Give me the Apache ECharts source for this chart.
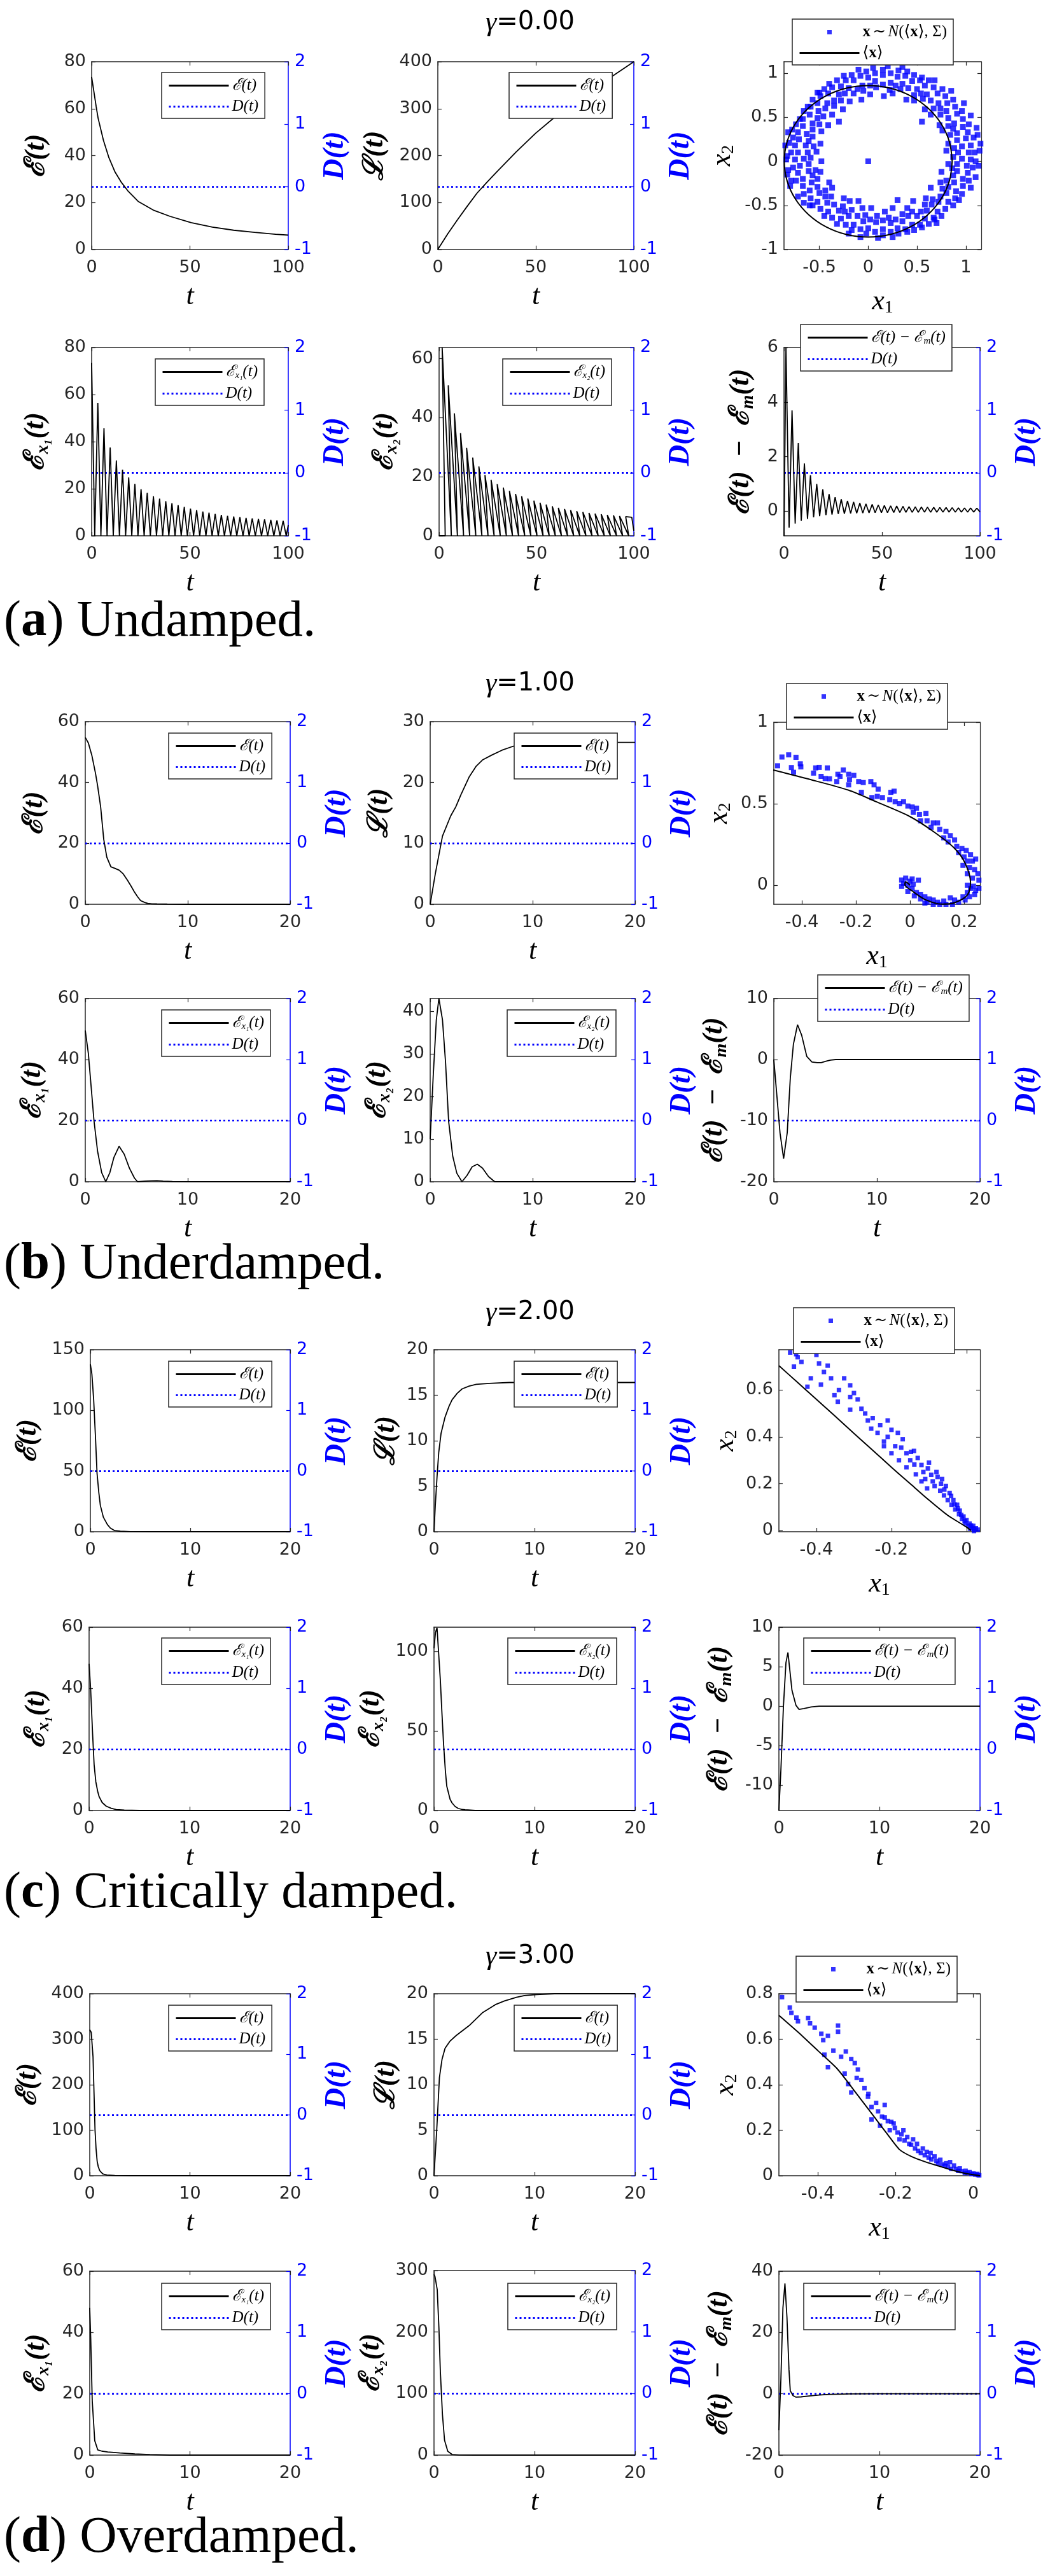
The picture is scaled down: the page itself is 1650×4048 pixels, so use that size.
<!DOCTYPE html>
<html><head><meta charset="utf-8">
<script src="https://cdn.jsdelivr.net/npm/echarts@6/dist/echarts.min.js"></script>
<style>html,body{margin:0;padding:0;background:#fff}#c{width:1650px;height:4048px}</style>
</head><body><div id="c"></div>
<script>
// ================= DATA =================
const gammaLabels = ['0.00', '1.00', '2.00', '3.00'];
const captionLetters = ['a', 'b', 'c', 'd'];
const captionTexts = ['Undamped.', 'Underdamped.', 'Critically damped.', 'Overdamped.'];

// D(t) is identically zero
const dT_a = [0, 100];
const dT_bcd = [0, 20];
const dV = [0, 0];

// ---- (a) gamma = 0 ----
const aE_t = [0, 0.6, 2.3, 3.3, 6, 8.7, 11.9, 15.2, 18.4, 23.8, 31.3, 39.9, 50.6, 61.4, 72.2, 82.9, 93.5, 100];
const aE_v = [73.5, 73, 60.9, 55.9, 46.5, 39.3, 33, 28.5, 25.0, 20.4, 16.8, 14.1, 11.4, 9.5, 8.2, 7.3, 6.5, 6.1];
const aL_t = [0, 5, 10, 15, 20, 25, 30, 40, 50, 60, 70, 80, 90, 100];
const aL_v = [0, 33, 63, 92, 120, 143, 165, 208, 248, 283, 315, 345, 372, 400];
// energy of x1 peaks at these times, energy of x2 peaks at the other times; troughs reach zero
const aX1peak_t = [0, 3.14, 6.28, 9.42, 12.57, 15.71, 18.85, 21.99, 25.13, 28.27, 31.42, 34.56, 37.7, 40.84, 43.98, 47.12, 50.27, 53.41, 56.55, 59.69, 62.83, 65.97, 69.12, 72.26, 75.4, 78.54, 81.68, 84.82, 87.96, 91.11, 94.25, 97.39];
const aX1peak_v = [73.5, 56.5, 45.7, 37.5, 32, 28.1, 24.8, 22, 19.8, 18.2, 16.8, 15.8, 14.7, 13.8, 13.0, 12.3, 11.5, 10.9, 10.3, 9.8, 9.3, 8.9, 8.5, 8.2, 7.9, 7.6, 7.4, 7.2, 7.0, 6.8, 6.6, 6.4];
const aX2peak_t = [1.57, 4.71, 7.85, 11.0, 14.14, 17.28, 20.42, 23.56, 26.7, 29.85, 32.99, 36.13, 39.27, 42.41, 45.55, 48.69, 51.84, 54.98, 58.12, 61.26, 64.4, 67.54, 70.69, 73.83, 76.97, 80.11, 83.25, 86.39, 89.54, 92.68, 95.82, 98.96];
const aX2peak_v = [63.8, 51, 41.5, 34.8, 29.8, 26.5, 23.5, 20.6, 19.0, 17.5, 16.3, 15.2, 14.2, 13.4, 12.6, 11.9, 11.2, 10.6, 10.0, 9.5, 9.1, 8.7, 8.35, 8.05, 7.75, 7.5, 7.3, 7.1, 6.9, 6.7, 6.5, 6.3];
const aTroughV = 0;
const aX1_end = [100, 4.6];
const aX2_end = [100, 1.7];
const aDE_t = [0, 1.0, 2.6, 4.1, 5.7, 7.3, 8.8, 10.4, 12.0, 13.5, 15.1, 16.7, 18.2, 19.8, 21.4, 23.0, 24.5, 26.1, 27.7, 29.2, 30.8, 32.4, 34.0, 35.5, 37.1, 38.7, 40.2, 41.8, 43.4, 45.0, 46.5, 48.1, 49.7, 51.2, 52.8, 54.4, 56.0, 57.5, 59.1, 60.7, 62.2, 63.8, 65.4, 67.0, 68.5, 70.1, 71.7, 73.2, 74.8, 76.4, 78.0, 79.5, 81.1, 82.7, 84.2, 85.8, 87.4, 89.0, 90.5, 92.1, 93.7, 95.2, 96.8, 98.4, 100];
const aDE_v = [-0.9, 6.0, -0.6, 3.7, -0.45, 2.5, -0.35, 1.75, -0.28, 1.32, -0.22, 1.0, -0.18, 0.8, -0.14, 0.63, -0.12, 0.52, -0.1, 0.44, -0.09, 0.38, -0.08, 0.34, -0.07, 0.3, -0.065, 0.27, -0.06, 0.25, -0.055, 0.23, -0.05, 0.21, -0.05, 0.2, -0.045, 0.19, -0.045, 0.18, -0.04, 0.17, -0.04, 0.16, -0.04, 0.155, -0.035, 0.15, -0.035, 0.145, -0.035, 0.14, -0.03, 0.135, -0.03, 0.13, -0.03, 0.125, -0.03, 0.12, -0.03, 0.12, -0.03, 0.115, -0.03];
const aMean = [[0.86,0],[0.831,0.223],[0.745,0.43],[0.608,0.608],[0.43,0.745],[0.223,0.831],[0,0.86],[-0.223,0.831],[-0.43,0.745],[-0.608,0.608],[-0.745,0.43],[-0.831,0.223],[-0.86,0],[-0.831,-0.223],[-0.745,-0.43],[-0.608,-0.608],[-0.43,-0.745],[-0.223,-0.831],[0,-0.86],[0.223,-0.831],[0.43,-0.745],[0.608,-0.608],[0.745,-0.43],[0.831,-0.223],[0.86,0]];
const aCloud = [
[0.80,0.12],[0.82,0.20],[0.76,0.35],[0.73,0.41],[0.64,0.53],[0.58,0.59],[0.47,0.69],[0.39,0.70],[0.25,0.77],[0.16,0.74],[0.02,0.76],[-0.07,0.70],[-0.19,0.68],[-0.26,0.59],[-0.37,0.53],[-0.41,0.41],[-0.48,0.34],[-0.49,0.20],[-0.53,0.11],[-0.48,0.0],[-0.49,-0.12],[-0.40,-0.24],[-0.37,-0.30],[-0.25,-0.42],[-0.19,-0.45],[-0.06,-0.53],[0.03,-0.53],[0.17,-0.57],[0.25,-0.53],[0.40,-0.53],[0.46,-0.45],[0.59,-0.42],[0.64,-0.30],[0.74,-0.24],[0.75,-0.12],[0.82,-0.03],
[0.88,0.15],[0.84,0.30],[0.82,0.40],[0.74,0.53],[0.67,0.60],[0.56,0.71],[0.47,0.75],[0.33,0.82],[0.22,0.81],[0.08,0.84],[-0.05,0.80],[-0.15,0.77],[-0.28,0.69],[-0.35,0.63],[-0.46,0.51],[-0.50,0.42],[-0.57,0.28],[-0.56,0.17],[-0.59,0.04],[-0.54,-0.10],[-0.52,-0.20],[-0.44,-0.33],[-0.38,-0.40],[-0.26,-0.51],[-0.17,-0.55],[-0.03,-0.61],[0.09,-0.62],[0.21,-0.64],[0.35,-0.60],[0.45,-0.57],[0.58,-0.49],[0.66,-0.43],[0.76,-0.31],[0.80,-0.22],[0.86,-0.08],[0.87,0.05],
[0.96,0.17],[0.91,0.32],[0.88,0.43],[0.80,0.57],[0.72,0.66],[0.60,0.76],[0.50,0.82],[0.35,0.88],[0.23,0.89],[0.07,0.91],[-0.06,0.86],[-0.20,0.83],[-0.30,0.76],[-0.42,0.66],[-0.51,0.57],[-0.57,0.43],[-0.63,0.31],[-0.64,0.18],[-0.66,0.03],[-0.61,-0.11],[-0.58,-0.24],[-0.50,-0.36],[-0.42,-0.47],[-0.30,-0.56],[-0.20,-0.62],[-0.05,-0.68],[0.08,-0.69],[0.23,-0.70],[0.35,-0.68],[0.50,-0.62],[0.60,-0.56],[0.72,-0.46],[0.80,-0.36],[0.88,-0.24],[0.91,-0.11],[0.96,0.03],
[1.03,0.10],[1.00,0.26],[0.97,0.39],[0.91,0.54],[0.81,0.66],[0.71,0.77],[0.58,0.86],[0.45,0.91],[0.30,0.96],[0.15,0.98],[0.0,0.95],[-0.15,0.92],[-0.28,0.85],[-0.41,0.77],[-0.52,0.66],[-0.60,0.53],[-0.67,0.40],[-0.71,0.25],[-0.72,0.10],[-0.70,-0.05],[-0.67,-0.20],[-0.60,-0.33],[-0.52,-0.46],[-0.41,-0.57],[-0.28,-0.65],[-0.15,-0.72],[0.0,-0.76],[0.15,-0.77],[0.30,-0.76],[0.45,-0.72],[0.58,-0.65],[0.71,-0.57],[0.82,-0.46],[0.90,-0.34],[0.97,-0.20],[1.01,-0.05],
[1.09,0.10],[1.08,0.27],[1.03,0.42],[0.96,0.57],[0.87,0.70],[0.76,0.82],[0.62,0.92],[0.47,0.98],[0.31,1.03],[0.15,1.04],[-0.02,1.02],[-0.17,0.98],[-0.32,0.92],[-0.45,0.82],[-0.57,0.70],[-0.66,0.57],[-0.74,0.42],[-0.77,0.27],[-0.79,0.10],[-0.77,-0.07],[-0.74,-0.22],[-0.66,-0.37],[-0.57,-0.50],[-0.45,-0.62],[-0.32,-0.71],[-0.17,-0.78],[-0.02,-0.82],[0.15,-0.84],[0.31,-0.82],[0.47,-0.78],[0.62,-0.71],[0.75,-0.62],[0.87,-0.50],[0.96,-0.37],[1.03,-0.22],[1.07,-0.07],
[0.92,0.10],[0.91,0.24],[0.87,0.37],[0.82,0.49],[0.74,0.60],[0.64,0.69],[0.54,0.77],[0.41,0.83],[0.28,0.86],[0.15,0.87],[0.02,0.86],[-0.11,0.82],[-0.24,0.77],[-0.35,0.69],[-0.44,0.60],[-0.52,0.49],[-0.57,0.36],[-0.61,0.23],[-0.62,0.10],[-0.61,-0.03],[-0.57,-0.16],[-0.52,-0.29],[-0.44,-0.40],[-0.35,-0.49],[-0.24,-0.57],[-0.11,-0.62],[0.02,-0.66],[0.15,-0.67],[0.28,-0.66],[0.41,-0.62],[0.54,-0.57],[0.65,-0.49],[0.74,-0.40],[0.82,-0.29],[0.87,-0.16],[0.91,-0.03],
[1.05,0.18],[1.02,0.33],[0.97,0.48],[0.89,0.62],[0.79,0.74],[0.67,0.84],[0.53,0.92],[0.38,0.97],[0.23,1.00],[0.07,1.00],[-0.08,0.97],[-0.23,0.92],[-0.37,0.84],[-0.49,0.74],[-0.59,0.62],[-0.67,0.48],[-0.72,0.33],[-0.75,0.18],[-0.75,0.02],[-0.72,-0.13],[-0.67,-0.28],[-0.59,-0.42],[-0.49,-0.54],[-0.37,-0.64],[-0.23,-0.72],[-0.08,-0.77],[0.07,-0.80],[0.23,-0.80],[0.38,-0.77],[0.53,-0.72],[0.67,-0.64],[0.79,-0.54],[0.89,-0.42],[0.97,-0.28],[1.02,-0.13],[1.05,0.02],
[-0.84,0.02],[-0.85,0.18],[-0.83,-0.15],[-0.82,0.33],[-0.80,-0.28],[1.14,0.12],[1.13,-0.05],[1.12,0.30],[1.15,0.20],[1.10,-0.18],[0.20,1.08],[0.05,1.06],[0.35,1.07],[-0.10,1.04],[0.10,-0.87],[-0.08,-0.86],[0.25,-0.86],[-0.2,-0.82],[0.55,0.95],[-0.5,0.78],[-0.6,-0.5],[0.7,-0.7],
[-0.1,-0.45],[0.3,-0.44],[0.55,0.45],[-0.3,0.45],[0.0,0.0],
[-0.62,0.62],[-0.70,0.48],[-0.78,0.36],[-0.81,0.21],[-0.83,0.06],[-0.82,-0.10],[-0.79,-0.22],[-0.72,-0.40],[-0.66,-0.47],[0.40,-0.80],[0.55,-0.75],[0.68,-0.66],[0.93,-0.44],[1.05,-0.30],[1.10,0.00],[1.11,0.38],[1.05,0.52],[0.98,0.66],[0.85,0.80],[0.68,0.92],[0.40,1.02],[-0.25,0.97],[-0.40,0.88],[-0.52,0.78]
];

// ---- (b) gamma = 1 ----
const bE_t = [0, 0.3, 0.65, 1.0, 1.2, 1.5, 1.8, 2.1, 2.5, 2.9, 3.3, 3.7, 4.1, 4.5, 4.8, 5.1, 5.4, 5.8, 6.1, 6.5, 7, 8, 10, 15, 20];
const bE_v = [54.8, 53, 48.8, 43, 39, 32, 21.4, 15.5, 12.3, 11.8, 11.2, 10, 8, 5.8, 4, 2.5, 1.2, 0.6, 0.3, 0.15, 0.1, 0.05, 0, 0, 0];
const bL_t = [0, 0.5, 1.2, 2, 2.5, 3, 3.8, 4.5, 5.1, 6, 7, 8, 9, 10, 12, 15, 20];
const bL_v = [0, 5, 11.2, 14.5, 16, 18, 20.9, 22.7, 23.7, 24.5, 25.3, 25.9, 26.3, 26.5, 26.6, 26.6, 26.6];
const bX1_t = [0, 0.3, 0.6, 0.85, 1.2, 1.6, 2.0, 2.4, 2.8, 3.3, 3.8, 4.3, 4.8, 5.1, 5.8, 6.5, 7.0, 7.6, 8.5, 10, 20];
const bX1_v = [49.5, 42, 30, 20, 10, 3, 0, 3, 8, 11.6, 9, 4.5, 1.2, 0, 0.2, 0.3, 0.35, 0.2, 0.05, 0, 0];
const bX2_t = [0, 0.3, 0.6, 0.85, 1.2, 1.5, 1.8, 2.2, 2.6, 3.1, 3.6, 4.1, 4.6, 5.1, 5.7, 6.3, 8, 20];
const bX2_v = [10, 25, 38, 43, 38, 28, 14.2, 6, 2, 0, 1.5, 3.5, 4.1, 3.2, 1.2, 0, 0, 0];
const bDE_t = [0, 0.3, 0.6, 0.95, 1.3, 1.6, 1.9, 2.3, 2.7, 3.2, 3.7, 4.2, 4.6, 5, 5.5, 6, 8, 20];
const bDE_v = [0, -6, -12, -16.2, -12, -3, 2.5, 5.7, 4, 0.5, -0.4, -0.5, -0.5, -0.3, -0.1, 0, 0, 0];
const bMean = [[-0.506,0.707],[-0.384,0.655],[-0.227,0.583],[-0.125,0.512],[0.0,0.421],[0.086,0.330],[0.165,0.226],[0.204,0.135],[0.224,0.017],[0.212,-0.061],[0.165,-0.107],[0.118,-0.116],[0.055,-0.087],[0.008,-0.035],[-0.019,0.004],[-0.016,0.020],[0.0,0.0]];
const bCloud = [
[-0.49,0.733],[-0.474,0.787],[-0.449,0.80],[-0.422,0.785],[-0.439,0.722],[-0.406,0.745],[-0.404,0.726],[-0.431,0.693],[-0.349,0.720],[-0.336,0.723],[-0.306,0.720],[-0.357,0.688],[-0.329,0.668],[-0.314,0.655],[-0.298,0.653],[-0.267,0.681],[-0.247,0.707],[-0.271,0.636],[-0.259,0.668],[-0.227,0.681],[-0.208,0.674],[-0.224,0.648],[-0.227,0.616],[-0.19,0.636],[-0.173,0.63],[-0.180,0.570],[-0.145,0.636],[-0.133,0.616],[-0.118,0.59],[-0.141,0.538],[-0.121,0.545],[-0.102,0.538],[-0.071,0.570],[-0.059,0.577],[-0.075,0.525],[-0.055,0.512],[-0.039,0.5],[-0.024,0.512],[-0.008,0.486],[0.008,0.48],[0.024,0.473],[0.012,0.447],[0.035,0.434],[0.059,0.441],[0.039,0.395],[0.063,0.395],[0.086,0.382],[0.102,0.382],[0.078,0.356],[0.110,0.343],[0.133,0.330],[0.125,0.291],[0.149,0.304],[0.165,0.278],[0.141,0.265],[0.173,0.239],[0.192,0.226],[0.208,0.213],[0.180,0.200],[0.200,0.174],[0.224,0.187],[0.212,0.148],[0.231,0.148],[0.243,0.161],[0.196,0.122],[0.220,0.109],[0.239,0.096],[0.212,0.070],[0.251,0.070],[0.231,0.044],[0.255,0.031],[0.212,0.0],[0.235,-0.006],[0.255,-0.019],[0.239,-0.058],[0.220,-0.071],[0.204,-0.091],[0.180,-0.104],[0.157,-0.117],[0.133,-0.117],[0.110,-0.117],[0.086,-0.117],[0.063,-0.104],[0.039,-0.084],[0.016,-0.065],[-0.008,-0.039],[-0.031,-0.007],[-0.031,0.032],[-0.016,0.044],[0.008,0.038],[0.031,0.031],[-0.008,0.0],[0.008,-0.019],[0.024,-0.045],[0.055,-0.071],[0.086,-0.091],[0.125,-0.097],[0.165,-0.091],[0.196,-0.071],[0.055,-0.110],[0.102,-0.104],[0.149,-0.078],[-0.024,0.012],[0.012,0.006],[0.0,0.025],[0.039,-0.058],[0.071,-0.084],[0.212,-0.045],[0.243,-0.032],[0.224,-0.019]
];

// ---- (c) gamma = 2 ----
const cE_t = [0, 0.15, 0.33, 0.5, 0.67, 0.85, 1.0, 1.3, 1.7, 2.0, 2.4, 3, 4, 6, 10, 20];
const cE_v = [138, 130, 109, 80, 48, 32, 21.7, 12, 6, 3, 1, 0.4, 0.1, 0, 0, 0];
const cL_t = [0, 0.13, 0.3, 0.47, 0.7, 1.1, 1.5, 1.8, 2.3, 2.8, 3.5, 4.2, 5.5, 7.5, 10, 20];
const cL_v = [0, 2.9, 6, 8.7, 10.8, 12.6, 13.8, 14.5, 15.2, 15.7, 16.0, 16.2, 16.3, 16.4, 16.4, 16.4];
const cX1_t = [0, 0.15, 0.35, 0.5, 0.67, 0.85, 1.0, 1.3, 1.7, 2.2, 2.7, 3.5, 5, 20];
const cX1_v = [48, 40, 25, 15, 9.4, 6.3, 4.5, 2.6, 1.4, 0.7, 0.3, 0.1, 0, 0];
const cX2_t = [0, 0.15, 0.3, 0.47, 0.63, 0.8, 0.95, 1.13, 1.27, 1.6, 1.8, 2.1, 2.4, 2.8, 3.1, 4.1, 20];
const cX2_v = [102, 112, 115, 98, 82, 60, 42, 25, 15.3, 7, 4.7, 2.5, 1.3, 0.6, 0.4, 0, 0];
const cDE_t = [0, 0.2, 0.45, 0.7, 0.9, 1.05, 1.3, 1.7, 2.0, 2.5, 3.2, 4, 6, 20];
const cDE_v = [-13.2, -8, 0, 5.5, 6.8, 5, 2, 0.1, -0.4, -0.3, -0.1, 0, 0, 0];
const cMean = [[-0.5,0.704],[-0.45,0.632],[-0.4,0.56],[-0.35,0.488],[-0.3,0.415],[-0.25,0.343],[-0.2,0.27],[-0.15,0.2],[-0.1,0.13],[-0.05,0.065],[0,0.015],[0.012,0]];
const cCloud = [
[-0.454,0.753],[-0.45,0.74],[-0.46,0.70],[-0.40,0.75],[-0.393,0.713],[-0.37,0.704],[-0.38,0.677],[-0.361,0.65],[-0.388,0.623],[-0.424,0.614],[-0.415,0.65],[-0.326,0.65],[-0.31,0.62],[-0.31,0.57],[-0.352,0.578],[-0.343,0.55],[-0.30,0.587],[-0.29,0.56],[-0.31,0.516],[-0.263,0.47],[-0.254,0.435],[-0.237,0.417],[-0.21,0.47],[-0.21,0.40],[-0.183,0.417],[-0.174,0.354],[-0.148,0.336],[-0.13,0.31],[-0.139,0.282],[-0.103,0.265],[-0.094,0.238],[-0.077,0.229],[-0.068,0.2],[-0.059,0.175],[-0.041,0.148],[-0.032,0.112],[-0.023,0.094],[-0.014,0.067],[-0.005,0.04],[0.012,0.022],[0.02,0.005],
[-0.47,0.76],[-0.44,0.72],[-0.34,0.60],[-0.28,0.52],[-0.27,0.50],[-0.25,0.48],[-0.23,0.45],[-0.22,0.38],[-0.20,0.43],[-0.19,0.36],[-0.17,0.39],[-0.16,0.33],[-0.15,0.30],[-0.14,0.34],[-0.12,0.28],[-0.115,0.25],[-0.11,0.22],[-0.10,0.29],[-0.09,0.21],[-0.085,0.19],[-0.08,0.25],[-0.07,0.17],[-0.065,0.22],[-0.06,0.15],[-0.055,0.19],[-0.05,0.13],[-0.045,0.16],[-0.04,0.11],[-0.035,0.13],[-0.03,0.09],[-0.025,0.11],[-0.02,0.07],[-0.018,0.085],[-0.012,0.05],[-0.008,0.06],[-0.003,0.03],[0.0,0.045],[0.005,0.02],[0.008,0.03],[0.015,0.012],[0.018,0.02],[0.025,0.01],[0.03,0.004],[0.02,-0.002],[0.01,0.008],[-0.105,0.18],[-0.12,0.21],[-0.135,0.24],[-0.16,0.27],[-0.18,0.30],[-0.2,0.33],[-0.22,0.36]
];

// ---- (d) gamma = 3 ----
const dE_t = [0, 0.15, 0.33, 0.43, 0.53, 0.63, 0.74, 0.85, 1.0, 1.3, 1.7, 2.5, 4, 20];
const dE_v = [321, 315, 261, 180, 100, 60, 32, 20, 11, 4, 1.5, 0.5, 0, 0];
const dL_t = [0, 0.27, 0.54, 0.8, 1.1, 1.6, 2.2, 3.5, 4.8, 6.1, 7, 8.2, 9, 10.2, 12, 13.5, 16, 20];
const dL_v = [0, 5, 10.8, 12.8, 14, 14.8, 15.4, 16.5, 17.9, 18.8, 19.2, 19.6, 19.8, 19.9, 20, 20, 20, 20];
const dX1_t = [0, 0.1, 0.25, 0.5, 0.8, 1.2, 1.8, 3, 4.5, 6, 8, 20];
const dX1_v = [48, 38, 17.7, 4.7, 1.7, 1.3, 1.0, 0.7, 0.4, 0.2, 0, 0];
const dX2_t = [0, 0.1, 0.32, 0.49, 0.63, 0.84, 1.05, 1.37, 1.8, 2.5, 4, 20];
const dX2_v = [294, 290, 269, 206, 136, 66, 24, 6.3, 1, 0.2, 0, 0];
const dDE_t = [0, 0.2, 0.4, 0.6, 0.8, 1.0, 1.13, 1.4, 1.7, 2.2, 3, 4, 5, 7, 10, 20];
const dDE_v = [-11.9, 5, 28, 36, 25, 8, 1, -0.6, -1.1, -1.0, -0.7, -0.4, -0.2, -0.05, 0, 0];
const dMean = [[-0.5,0.705],[-0.45,0.63],[-0.4,0.55],[-0.35,0.47],[-0.3,0.36],[-0.26,0.27],[-0.22,0.18],[-0.19,0.115],[-0.16,0.085],[-0.125,0.062],[-0.09,0.043],[-0.057,0.026],[-0.02,0.01],[0.017,0.0]];
const dCloud = [
[-0.492,0.785],[-0.472,0.739],[-0.468,0.716],[-0.451,0.679],[-0.455,0.695],[-0.425,0.693],[-0.408,0.651],[-0.391,0.624],[-0.386,0.596],[-0.374,0.615],[-0.348,0.66],[-0.348,0.633],[-0.383,0.532],[-0.374,0.477],[-0.34,0.523],[-0.328,0.546],[-0.331,0.449],[-0.314,0.513],[-0.305,0.495],[-0.297,0.467],[-0.322,0.403],[-0.314,0.366],[-0.288,0.421],[-0.28,0.385],[-0.271,0.348],[-0.262,0.302],[-0.262,0.247],[-0.245,0.283],[-0.228,0.311],[-0.228,0.256],[-0.211,0.237],[-0.202,0.21],[-0.185,0.182],[-0.177,0.155],[-0.16,0.136],[-0.142,0.109],[-0.125,0.09],[-0.108,0.072],[-0.091,0.053],[-0.074,0.044],[-0.057,0.03],[-0.039,0.021],[-0.022,0.012],[-0.005,0.007],[0.012,0.003],
[-0.24,0.22],[-0.235,0.26],[-0.22,0.24],[-0.215,0.20],[-0.205,0.23],[-0.195,0.19],[-0.19,0.16],[-0.18,0.2],[-0.17,0.17],[-0.165,0.14],[-0.155,0.16],[-0.15,0.12],[-0.145,0.14],[-0.135,0.1],[-0.13,0.12],[-0.12,0.105],[-0.115,0.08],[-0.1,0.085],[-0.095,0.065],[-0.085,0.07],[-0.08,0.05],[-0.07,0.055],[-0.065,0.04],[-0.05,0.045],[-0.045,0.03],[-0.035,0.032],[-0.03,0.02],[-0.02,0.022],[-0.015,0.012],[-0.01,0.016],[0.0,0.01],[0.005,0.005],[0.01,0.008],[0.015,0.002],[-0.06,0.06],[-0.11,0.1],[-0.25,0.32],[-0.27,0.36],[-0.3,0.43],[-0.36,0.55],[-0.42,0.67]
];

// ================= helpers =================
const pairs = (ts, vs) => ts.map((t, i) => [t, vs[i]]);
function oscSeries(firstT, firstV, secondT, secondV, endPt) {
  const out = [];
  for (let i = 0; i < firstT.length; i++) {
    out.push([firstT[i], firstV[i]]);
    if (i < secondT.length) out.push([secondT[i], secondV[i]]);
  }
  out.push(endPt);
  return out;
}
const aX1 = oscSeries(aX1peak_t, aX1peak_v, aX2peak_t, aX2peak_t.map(() => aTroughV), aX1_end);
const aX2 = oscSeries([0].concat(aX2peak_t), [aTroughV].concat(aX2peak_v), aX1peak_t.slice(1), aX1peak_t.slice(1).map(() => aTroughV), aX2_end);

// ================= styles / layout =================
const AX = '#262626', BLUE = '#0000ff';
const SANS = '"DejaVu Sans", sans-serif';
const MATH = '"Liberation Serif", "DejaVu Serif", serif';
const FS_TICK = 27;

const rects = [
  [[144,97,453,392],[688,97,996,392],[1232,97,1542,392]],
  [[144,546,453,842],[690,546,996,842],[1232,546,1540,842]],
  [[134,1134,456,1421],[676,1134,998,1421],[1216,1135,1540,1421]],
  [[134,1569,456,1857],[676,1569,998,1857],[1216,1569,1540,1857]],
  [[142,2121,456,2407],[682,2121,998,2407],[1224,2121,1540,2407]],
  [[140,2557,456,2845],[682,2557,998,2845],[1224,2557,1540,2845]],
  [[141,3133,456,3419],[682,3133,998,3419],[1224,3133,1540,3419]],
  [[141,3569,456,3858],[682,3568,998,3858],[1224,3569,1540,3858]]
];
const yLabelDist = [[86,98,95],[84,82,64],[79,79,84],[79,79,90],[97,74,82],[79,95,90],[96,74,82],[80,95,90]];
const legPos = [
  [[254,114],[800,114],[1245,30]],
  [[244,564],[790,564],[1258,510]],
  [[265,1152],[808,1152],[1236,1074]],
  [[254,1587],[797,1587],[1285,1532]],
  [[265,2139],[808,2139],[1247,2055]],
  [[254,2574],[798,2574],[1263,2574]],
  [[265,3151],[808,3151],[1251,3074]],
  [[254,3588],[798,3588],[1263,3588]]
];
const cloudSize = [9, 8, 7, 7];
const titleTops = [14, 1053, 2041, 3053];
const captionTops = [937, 1947, 2935, 3948];

const tA = [0, 50, 100], tB = [0, 10, 20];
const panels = [
  [
    {k:'t', d:pairs(aE_t,aE_v), T:100, xt:tA, y:[0,80], yt:[0,20,40,60,80], yn:'E', ln:'E', dT:dT_a},
    {k:'t', d:pairs(aL_t,aL_v), T:100, xt:tA, y:[0,400], yt:[0,100,200,300,400], yn:'L', ln:'E', dT:dT_a},
    {k:'s', g:0, cloud:aCloud, mean:aMean, x:[-0.863,1.158], xt:[-0.5,0,0.5,1], y:[-1,1.13], yt:[-1,-0.5,0,0.5,1], smooth:0.35}
  ],
  [
    {k:'t', d:aX1, T:100, xt:tA, y:[0,80], yt:[0,20,40,60,80], yn:'Ex1', ln:'Ex1', dT:dT_a},
    {k:'t', d:aX2, T:100, xt:tA, y:[0,63.8], yt:[0,20,40,60], yn:'Ex2', ln:'Ex2', dT:dT_a},
    {k:'t', d:pairs(aDE_t,aDE_v), T:100, xt:tA, y:[-0.9,6], yt:[0,2,4,6], yn:'Em', ln:'Em', dT:dT_a}
  ],
  [
    {k:'t', d:pairs(bE_t,bE_v), T:20, xt:tB, y:[0,60], yt:[0,20,40,60], yn:'E', ln:'E', dT:dT_bcd},
    {k:'t', d:pairs(bL_t,bL_v), T:20, xt:tB, y:[0,30], yt:[0,10,20,30], yn:'L', ln:'E', dT:dT_bcd},
    {k:'s', g:1, cloud:bCloud, mean:bMean, x:[-0.504,0.259], xt:[-0.4,-0.2,0,0.2], y:[-0.117,1], yt:[0,0.5,1], smooth:0.3}
  ],
  [
    {k:'t', d:pairs(bX1_t,bX1_v), T:20, xt:tB, y:[0,60], yt:[0,20,40,60], yn:'Ex1', ln:'Ex1', dT:dT_bcd},
    {k:'t', d:pairs(bX2_t,bX2_v), T:20, xt:tB, y:[0,43], yt:[0,10,20,30,40], yn:'Ex2', ln:'Ex2', dT:dT_bcd},
    {k:'t', d:pairs(bDE_t,bDE_v), T:20, xt:tB, y:[-20,10], yt:[-20,-10,0,10], yn:'Em', ln:'Em', dT:dT_bcd}
  ],
  [
    {k:'t', d:pairs(cE_t,cE_v), T:20, xt:tB, y:[0,150], yt:[0,50,100,150], yn:'E', ln:'E', dT:dT_bcd},
    {k:'t', d:pairs(cL_t,cL_v), T:20, xt:tB, y:[0,20], yt:[0,5,10,15,20], yn:'L', ln:'E', dT:dT_bcd},
    {k:'s', g:2, cloud:cCloud, mean:cMean, x:[-0.5,0.036], xt:[-0.4,-0.2,0], y:[-0.005,0.772], yt:[0,0.2,0.4,0.6], smooth:0.2}
  ],
  [
    {k:'t', d:pairs(cX1_t,cX1_v), T:20, xt:tB, y:[0,60], yt:[0,20,40,60], yn:'Ex1', ln:'Ex1', dT:dT_bcd},
    {k:'t', d:pairs(cX2_t,cX2_v), T:20, xt:tB, y:[0,115.3], yt:[0,50,100], yn:'Ex2', ln:'Ex2', dT:dT_bcd},
    {k:'t', d:pairs(cDE_t,cDE_v), T:20, xt:tB, y:[-13.2,10], yt:[-10,-5,0,5,10], yn:'Em', ln:'Em', dT:dT_bcd}
  ],
  [
    {k:'t', d:pairs(dE_t,dE_v), T:20, xt:tB, y:[0,400], yt:[0,100,200,300,400], yn:'E', ln:'E', dT:dT_bcd},
    {k:'t', d:pairs(dL_t,dL_v), T:20, xt:tB, y:[0,20], yt:[0,5,10,15,20], yn:'L', ln:'E', dT:dT_bcd},
    {k:'s', g:3, cloud:dCloud, mean:dMean, x:[-0.5,0.017], xt:[-0.4,-0.2,0], y:[0,0.8], yt:[0,0.2,0.4,0.6,0.8], smooth:0.2}
  ],
  [
    {k:'t', d:pairs(dX1_t,dX1_v), T:20, xt:tB, y:[0,60], yt:[0,20,40,60], yn:'Ex1', ln:'Ex1', dT:dT_bcd},
    {k:'t', d:pairs(dX2_t,dX2_v), T:20, xt:tB, y:[0,300], yt:[0,100,200,300], yn:'Ex2', ln:'Ex2', dT:dT_bcd},
    {k:'t', d:pairs(dDE_t,dDE_v), T:20, xt:tB, y:[-20,40], yt:[-20,0,20,40], yn:'Em', ln:'Em', dT:dT_bcd}
  ]
];

const YN = {
  E: '{m|ℰ(t)}', L: '{m|ℒ(t)}',
  Ex1: '{m|ℰ}{s|x₁}{m|(t)}', Ex2: '{m|ℰ}{s|x₂}{m|(t)}',
  Em: '{m|ℰ(t)  −  ℰ}{s|m}{m|(t)}',
  x1: '{n|x}{u|1}', x2: '{n|x}{u|2}', t: '{n|t}', D: '{d|D(t)}'
};
const NAME_RICH = {
  m: {fontFamily: MATH, fontStyle: 'italic', fontWeight: 'bold', fontSize: 44, color: '#000'},
  s: {fontFamily: MATH, fontStyle: 'italic', fontWeight: 'bold', fontSize: 28, color: '#000', padding: [22, 0, 0, 0]},
  n: {fontFamily: MATH, fontStyle: 'italic', fontWeight: 'normal', fontSize: 44, color: '#000'},
  u: {fontFamily: MATH, fontWeight: 'normal', fontSize: 28, color: '#000', padding: [20, 0, 0, 0]},
  d: {fontFamily: MATH, fontStyle: 'italic', fontWeight: 'bold', fontSize: 46, color: BLUE}
};
const LEG = {
  E: '{i|ℰ(t)}', D: '{i|D(t)}',
  Ex1: '{i|ℰ}{s|x₁}{i|(t)}', Ex2: '{i|ℰ}{s|x₂}{i|(t)}',
  Em: '{i|ℰ(t) − ℰ}{s|m}{i|(t)}',
  S: '{b|x} {r|∼} {i|N}{r|(⟨}{b|x}{r|⟩, Σ)}', M: '{r|⟨}{b|x}{r|⟩}'
};
const LEG_RICH = {
  i: {fontFamily: MATH, fontStyle: 'italic', fontWeight: 'normal', fontSize: 25, color: '#000'},
  s: {fontFamily: MATH, fontStyle: 'italic', fontWeight: 'normal', fontSize: 15, color: '#000', padding: [12, 0, 0, 0]},
  r: {fontFamily: MATH, fontWeight: 'normal', fontSize: 25, color: '#000'},
  b: {fontFamily: MATH, fontWeight: 'bold', fontSize: 25, color: '#000'}
};

function axisCommon(min, max, ticks, color, showLabel, margin, lineW) {
  return {
    type: 'value', min, max, splitLine: {show: false},
    axisLine: {show: true, onZero: false, lineStyle: {color, width: lineW}},
    axisTick: {show: true, inside: true, length: 6, customValues: ticks, lineStyle: {color, width: 1.2}},
    axisLabel: {show: showLabel, customValues: ticks, fontSize: FS_TICK, fontFamily: SANS, fontWeight: 'normal', color, margin}
  };
}

const option = {animation: false, backgroundColor: '#fff', title: [], grid: [], xAxis: [], yAxis: [], series: [], legend: []};

for (let r = 0; r < 4; r++) {
  option.title.push({
    text: '{g|γ}{n|=' + gammaLabels[r] + '}', left: 763, top: titleTops[r], padding: 0,
    textStyle: {fontWeight: 'normal', rich: {
      g: {fontFamily: MATH, fontStyle: 'italic', fontWeight: 'normal', fontSize: 44, color: '#000'},
      n: {fontFamily: SANS, fontWeight: 'normal', fontSize: 40, color: '#000'}}}
  });
  option.title.push({
    text: '{p|(}{b|' + captionLetters[r] + '}{p|) ' + captionTexts[r] + '}', left: 6, top: captionTops[r], padding: 0,
    textStyle: {fontWeight: 'normal', rich: {
      p: {fontFamily: '"Liberation Serif", serif', fontWeight: 'normal', fontSize: 81, color: '#000'},
      b: {fontFamily: '"Liberation Serif", serif', fontWeight: 'bold', fontSize: 81, color: '#000'}}}
  });
}

for (let row = 0; row < 8; row++) {
  for (let c = 0; c < 3; c++) {
    const p = row * 3 + c, P = panels[row][c], R = rects[row][c];
    option.grid.push({left: R[0], top: R[1], width: R[2] - R[0], height: R[3] - R[1], containLabel: false, outerBoundsMode: 'none'});
    const xi = 2 * p, yi = 2 * p;
    const isS = P.k === 's';
    const xmin = isS ? P.x[0] : 0, xmax = isS ? P.x[1] : P.T;
    const xb = axisCommon(xmin, xmax, P.xt, AX, true, 15, 1.5);
    Object.assign(xb, {gridIndex: p, position: 'bottom', name: isS ? YN.x1 : YN.t, nameLocation: 'middle',
      nameGap: isS ? 58 : 52, nameTextStyle: {rich: NAME_RICH}});
    const xt = axisCommon(xmin, xmax, P.xt, AX, false, 8, 1.5);
    Object.assign(xt, {gridIndex: p, position: 'top'});
    option.xAxis.push(xb, xt);
    const yl = axisCommon(P.y[0], P.y[1], P.yt, AX, true, 9, 1.5);
    Object.assign(yl, {gridIndex: p, position: 'left', name: isS ? YN.x2 : YN[P.yn], nameLocation: 'middle', nameRotate: 90,
      nameGap: yLabelDist[row][c] - 22, nameTextStyle: {rich: NAME_RICH}});
    let yr;
    if (isS) {
      yr = axisCommon(P.y[0], P.y[1], P.yt, AX, false, 8, 1.2);
      Object.assign(yr, {gridIndex: p, position: 'right'});
    } else {
      yr = axisCommon(-1, 2, [-1, 0, 1, 2], BLUE, true, 10, 1.5);
      Object.assign(yr, {gridIndex: p, position: 'right', name: YN.D, nameLocation: 'middle', nameRotate: 90,
        nameGap: 51, nameTextStyle: {rich: NAME_RICH}});
    }
    option.yAxis.push(yl, yr);

    let legData;
    if (isS) {
      option.series.push({type: 'scatter', name: 'S', xAxisIndex: xi, yAxisIndex: yi, data: P.cloud,
        symbol: 'rect', symbolSize: cloudSize[P.g], itemStyle: {color: BLUE}, z: 2});
      option.series.push({type: 'line', name: 'M', xAxisIndex: xi, yAxisIndex: yi, data: P.mean, symbol: 'none',
        smooth: P.smooth, lineStyle: {color: '#000', width: 2}, itemStyle: {color: '#000'}, z: 3});
      legData = [{name: 'S', icon: 'path://M0,0L1,0L1,1L0,1Z'}, {name: 'M', itemStyle: {opacity: 0}}];
    } else {
      option.series.push({type: 'line', name: P.ln, xAxisIndex: xi, yAxisIndex: yi, data: P.d, symbol: 'none',
        lineStyle: {color: '#000', width: 1.8}, itemStyle: {color: '#000'}, z: 3});
      option.series.push({type: 'line', name: 'D', xAxisIndex: xi, yAxisIndex: yi + 1, data: pairs(P.dT, dV), symbol: 'none',
        lineStyle: {color: BLUE, width: 2.6, type: [3, 4]}, itemStyle: {color: BLUE}, z: 2});
      legData = [{name: P.ln, itemStyle: {opacity: 0}}, {name: 'D', itemStyle: {opacity: 0}}];
    }
    const L = legPos[row][c];
    option.legend.push({
      left: L[0], top: L[1], orient: 'vertical', data: legData, selectedMode: false,
      itemWidth: 94, itemHeight: 7, itemGap: 8, padding: [8, 10, 6, 10],
      backgroundColor: '#fff', borderColor: AX, borderWidth: 1.5, borderRadius: 0, z: 10,
      lineStyle: {width: 3},
      formatter: (n) => LEG[n],
      textStyle: {fontWeight: 'normal', rich: LEG_RICH}
    });
  }
}

const chart = echarts.init(document.getElementById('c'), null, {renderer: 'canvas', width: 1650, height: 4048});
chart.setOption(option);
</script>
</body></html>
